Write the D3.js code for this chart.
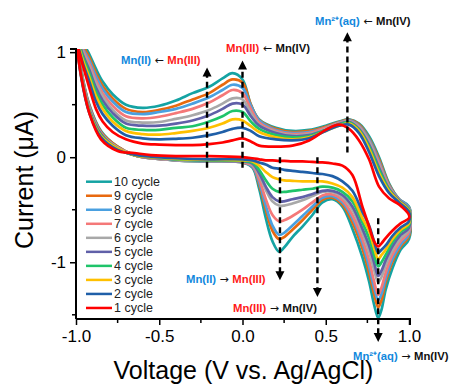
<!DOCTYPE html>
<html><head><meta charset="utf-8">
<script src="https://cdn.jsdelivr.net/npm/d3@7"></script>
<style>body{margin:0;background:#fff}svg{display:block}text{font-family:Arial,"Liberation Sans",sans-serif}</style>
</head><body><svg id="c" width="459" height="384"></svg>
<script>
const cycleLabels = ["1 cycle","2 cycle","3 cycle","4 cycle","5 cycle","6 cycle","7 cycle","8 cycle","9 cycle","10 cycle"];
const cycleColors = ["#ff0000","#1f5fa8","#ffc000","#1fc46a","#6060a8","#a8a8a8","#f47878","#4aa0e0","#e8690f","#14a3a3"];
const xUp = [-1.0,-0.96,-0.92,-0.88,-0.84,-0.78,-0.7,-0.6,-0.5,-0.4,-0.3,-0.2,-0.12,-0.06,0.0,0.05,0.1,0.2,0.3,0.4,0.5,0.58,0.64,0.7,0.76,0.82,0.88,0.94,1.0];
const xDown = [1.0,0.95,0.9,0.86,0.835,0.815,0.79,0.76,0.72,0.66,0.6,0.54,0.48,0.42,0.36,0.3,0.25,0.22,0.18,0.14,0.1,0.06,0.0,-0.2,-0.4,-0.55,-0.65,-0.75,-0.85,-0.92,-0.97,-1.0];
const upCurrent = [
 [1.12,0.88,0.66,0.46,0.34,0.24,0.17,0.13,0.12,0.115,0.115,0.125,0.14,0.16,0.18,0.15,0.11,0.1,0.11,0.16,0.26,0.31,0.27,0.16,-0.02,-0.28,-0.39,-0.45,-0.55],
 [1.14,0.9,0.72,0.53,0.41,0.3,0.21,0.18,0.17,0.175,0.185,0.21,0.24,0.27,0.28,0.25,0.2,0.17,0.16,0.18,0.25,0.3,0.31,0.23,0.05,-0.18,-0.34,-0.43,-0.52],
 [1.16,0.93,0.76,0.58,0.46,0.34,0.25,0.22,0.215,0.23,0.25,0.28,0.32,0.36,0.35,0.295,0.24,0.19,0.17,0.19,0.25,0.3,0.32,0.25,0.08,-0.15,-0.32,-0.42,-0.51],
 [1.18,0.96,0.8,0.62,0.5,0.38,0.28,0.26,0.26,0.28,0.295,0.34,0.39,0.44,0.43,0.34,0.27,0.21,0.19,0.2,0.26,0.31,0.33,0.26,0.1,-0.12,-0.31,-0.42,-0.5],
 [1.2,0.98,0.83,0.66,0.54,0.42,0.32,0.3,0.3,0.32,0.35,0.4,0.46,0.51,0.5,0.39,0.3,0.23,0.2,0.21,0.26,0.315,0.335,0.27,0.12,-0.1,-0.3,-0.41,-0.5],
 [1.22,1.0,0.86,0.7,0.58,0.45,0.35,0.33,0.335,0.365,0.4,0.45,0.51,0.56,0.55,0.42,0.31,0.24,0.21,0.22,0.27,0.32,0.34,0.28,0.14,-0.08,-0.29,-0.41,-0.49],
 [1.24,1.02,0.89,0.73,0.61,0.49,0.39,0.37,0.385,0.42,0.46,0.52,0.59,0.64,0.61,0.46,0.33,0.25,0.22,0.23,0.28,0.325,0.345,0.29,0.15,-0.06,-0.28,-0.41,-0.49],
 [1.26,1.04,0.92,0.77,0.65,0.53,0.43,0.41,0.43,0.46,0.51,0.57,0.64,0.69,0.66,0.49,0.35,0.26,0.23,0.24,0.28,0.33,0.35,0.3,0.17,-0.04,-0.27,-0.4,-0.48],
 [1.28,1.07,0.95,0.8,0.68,0.56,0.46,0.43,0.45,0.49,0.55,0.61,0.69,0.74,0.71,0.5,0.355,0.27,0.24,0.25,0.29,0.335,0.355,0.31,0.18,-0.02,-0.26,-0.4,-0.48],
 [1.3,1.1,0.98,0.84,0.72,0.6,0.5,0.47,0.49,0.54,0.61,0.67,0.75,0.8,0.74,0.5,0.36,0.28,0.25,0.26,0.3,0.34,0.36,0.32,0.2,0.0,-0.25,-0.4,-0.47]
];
const downCurrent = [
 [-0.58,-0.63,-0.7,-0.77,-0.82,-0.85,-0.8,-0.66,-0.47,-0.17,-0.08,-0.06,-0.05,-0.045,-0.04,-0.04,-0.035,-0.035,-0.03,-0.03,-0.02,-0.01,0.0,0.01,0.01,0.02,0.04,0.06,0.17,0.42,0.78,1.12],
 [-0.61,-0.67,-0.75,-0.84,-0.88,-0.91,-0.8,-0.65,-0.52,-0.32,-0.23,-0.18,-0.16,-0.15,-0.14,-0.13,-0.12,-0.11,-0.1,-0.07,-0.05,-0.03,-0.02,-0.02,-0.01,0.005,0.025,0.07,0.19,0.42,0.77,1.14],
 [-0.63,-0.69,-0.78,-0.88,-0.93,-0.97,-0.86,-0.7,-0.58,-0.38,-0.29,-0.25,-0.23,-0.23,-0.23,-0.225,-0.22,-0.21,-0.19,-0.14,-0.08,-0.04,-0.03,-0.025,-0.015,0.0,0.02,0.08,0.2,0.43,0.78,1.16],
 [-0.65,-0.71,-0.81,-0.93,-1.0,-1.04,-0.93,-0.77,-0.62,-0.42,-0.33,-0.29,-0.28,-0.3,-0.31,-0.32,-0.33,-0.33,-0.3,-0.22,-0.12,-0.05,-0.035,-0.03,-0.02,0.0,0.02,0.08,0.21,0.44,0.79,1.18],
 [-0.67,-0.74,-0.85,-0.98,-1.08,-1.13,-1.0,-0.84,-0.68,-0.47,-0.36,-0.32,-0.32,-0.35,-0.38,-0.4,-0.42,-0.42,-0.38,-0.28,-0.15,-0.06,-0.04,-0.03,-0.02,-0.005,0.02,0.08,0.22,0.45,0.8,1.2],
 [-0.69,-0.77,-0.89,-1.03,-1.14,-1.19,-1.07,-0.9,-0.72,-0.5,-0.38,-0.33,-0.33,-0.37,-0.41,-0.44,-0.46,-0.46,-0.42,-0.31,-0.17,-0.07,-0.04,-0.035,-0.025,-0.005,0.02,0.09,0.22,0.46,0.81,1.22],
 [-0.71,-0.8,-0.93,-1.1,-1.24,-1.31,-1.18,-0.98,-0.78,-0.55,-0.41,-0.355,-0.365,-0.43,-0.5,-0.56,-0.6,-0.61,-0.55,-0.4,-0.21,-0.08,-0.045,-0.035,-0.025,-0.01,0.02,0.09,0.23,0.47,0.82,1.24],
 [-0.73,-0.83,-0.97,-1.15,-1.3,-1.36,-1.24,-1.04,-0.82,-0.58,-0.43,-0.37,-0.385,-0.47,-0.56,-0.65,-0.72,-0.74,-0.65,-0.46,-0.24,-0.09,-0.05,-0.04,-0.03,-0.01,0.02,0.09,0.23,0.48,0.83,1.26],
 [-0.75,-0.85,-1.0,-1.19,-1.36,-1.43,-1.3,-1.1,-0.87,-0.62,-0.45,-0.385,-0.405,-0.5,-0.6,-0.69,-0.76,-0.78,-0.7,-0.5,-0.26,-0.09,-0.05,-0.04,-0.03,-0.01,0.02,0.1,0.24,0.49,0.84,1.28],
 [-0.78,-0.88,-1.06,-1.26,-1.45,-1.53,-1.4,-1.18,-0.95,-0.68,-0.47,-0.4,-0.43,-0.55,-0.66,-0.76,-0.86,-0.9,-0.8,-0.58,-0.3,-0.1,-0.05,-0.04,-0.03,-0.01,0.02,0.1,0.25,0.5,0.85,1.3]
];
const xTicks = [-1.0,-0.5,0.0,0.5,1.0];
const xMinor = [-0.75,-0.25,0.25,0.75];
const yTicks = [1,0,-1];
const yMinor = [0.5,-0.5,-1.5];
// annotations: [x, yFrom, yTo] in data units
const arrowLines = [[-0.213,-0.1,0.855],[0.0,-0.1,0.92],[0.63,0.045,1.19],[0.225,0.0,-1.17],[0.45,0.0,-1.33],[0.815,-0.58,-1.76]];
const notes = [
 {x:121,y:64,parts:[["Mn(II)","b"],[" \u2190 ","a"],["Mn(III)","r"]]},
 {x:226,y:52,parts:[["Mn(III)","r"],[" \u2190 ","a"],["Mn(IV)","k"]]},
 {x:315,y:25,parts:[["Mn\u00b2\u207a(aq)","b"],[" \u2190 ","a"],["Mn(IV)","k"]]},
 {x:186,y:283,parts:[["Mn(II)","b"],[" \u2192 ","a"],["Mn(III)","r"]]},
 {x:233,y:312,parts:[["Mn(III)","r"],[" \u2192 ","a"],["Mn(IV)","k"]]},
 {x:353,y:360,parts:[["Mn\u00b2\u207a(aq)","b"],[" \u2192 ","a"],["Mn(IV)","k"]]}
];

const svg = d3.select("#c");
const x = d3.scaleLinear().domain([-1,1]).range([76,409]);
const y = d3.scaleLinear().domain([-1.54,1.03]).range([319,49]);

svg.append("defs").append("clipPath").attr("id","clip").append("rect")
  .attr("x",76).attr("y",y(1.03)).attr("width",336).attr("height",y(-1.54)-y(1.03)+2);

const line = d3.line().x(d=>x(d[0])).y(d=>y(d[1])).curve(d3.curveCatmullRom.alpha(0.5));
const g = svg.append("g").attr("clip-path","url(#clip)");
for (let c = 9; c >= 0; c--) {
  const pts = xUp.map((v,i)=>[v,upCurrent[c][i]]).concat(xDown.map((v,i)=>[v,downCurrent[c][i]]));
  g.append("path").attr("d",line(pts)).attr("fill","none").attr("stroke",cycleColors[c])
   .attr("stroke-width",2.7).attr("stroke-linejoin","round");
}

// axes
const xa = svg.append("g").attr("transform",`translate(0,${y(-1.54)})`)
  .call(d3.axisBottom(x).tickValues(xTicks).tickSize(6).tickPadding(5).tickFormat(d=>d.toFixed(1)));
xa.append("g").selectAll("line").data(xMinor).join("line")
  .attr("x1",d=>x(d)).attr("x2",d=>x(d)).attr("y1",0).attr("y2",4).attr("stroke","#000").attr("stroke-width",1.5);
const ya = svg.append("g").attr("transform",`translate(${x(-1)},0)`)
  .call(d3.axisLeft(y).tickValues(yTicks).tickSize(6).tickPadding(4).tickFormat(d=>String(d)));
ya.append("g").selectAll("line").data(yMinor).join("line")
  .attr("y1",d=>y(d)).attr("y2",d=>y(d)).attr("x1",0).attr("x2",-4).attr("stroke","#000").attr("stroke-width",1.5);
[xa,ya].forEach(a=>{
  a.select(".domain").attr("stroke","#000").attr("stroke-width",2);
  a.selectAll(".tick line").attr("stroke","#000").attr("stroke-width",1.5);
  a.selectAll(".tick text").attr("font-size",17).attr("fill","#000").attr("font-family","Arial, Liberation Sans, sans-serif");
});
ya.select(".domain").attr("d",`M-6,${y(1.03)}H0V${y(-1.54)}`);
xa.select(".domain").attr("d",`M${x(-1)},0H${x(1)+1}V6`);

svg.append("text").attr("x",243.5).attr("y",379).attr("text-anchor","middle")
  .attr("font-size",25).text("Voltage (V vs. Ag/AgCl)");
svg.append("text").attr("transform","translate(33,180) rotate(-90)").attr("text-anchor","middle")
  .attr("font-size",25).text("Current (\u03bcA)");

// legend
const lg = svg.append("g");
const order = d3.range(9,-1,-1);
order.forEach((c,i)=>{
  const yy = 181.7 + i*14.03;
  lg.append("line").attr("x1",86).attr("x2",112).attr("y1",yy).attr("y2",yy).attr("stroke",cycleColors[c]).attr("stroke-width",2.5);
  lg.append("text").attr("x",114).attr("y",yy+4.3).attr("font-size",12.5).attr("fill","#222").text(cycleLabels[c]);
});

// dashed arrows
const ag = svg.append("g");
arrowLines.forEach(a=>{
  const px = x(a[0]), y0 = y(a[1]), y1 = y(a[2]);
  const dir = y1 < y0 ? -1 : 1;
  ag.append("line").attr("x1",px).attr("x2",px).attr("y1",y0).attr("y2",y1 - dir*8)
    .attr("stroke","#000").attr("stroke-width",2.4).attr("stroke-dasharray","6,4");
  ag.append("path").attr("d",`M${px-4.5},${y1-dir*9}L${px+4.5},${y1-dir*9}L${px},${y1}Z`).attr("fill","#000");
});

const colorOf = {b:"#1188dd",r:"#ff1a1a",k:"#111",a:"#111"};
notes.forEach(n=>{
  const t = svg.append("text").attr("x",n.x).attr("y",n.y).attr("font-size",11.3).attr("font-weight","bold");
  n.parts.forEach(p=>{
    const s = t.append("tspan").attr("fill",colorOf[p[1]]).text(p[0]);
    if (p[1]==="a") s.attr("font-family","DejaVu Sans").attr("font-weight","normal").attr("font-size",11);
  });
});
</script></body></html>
